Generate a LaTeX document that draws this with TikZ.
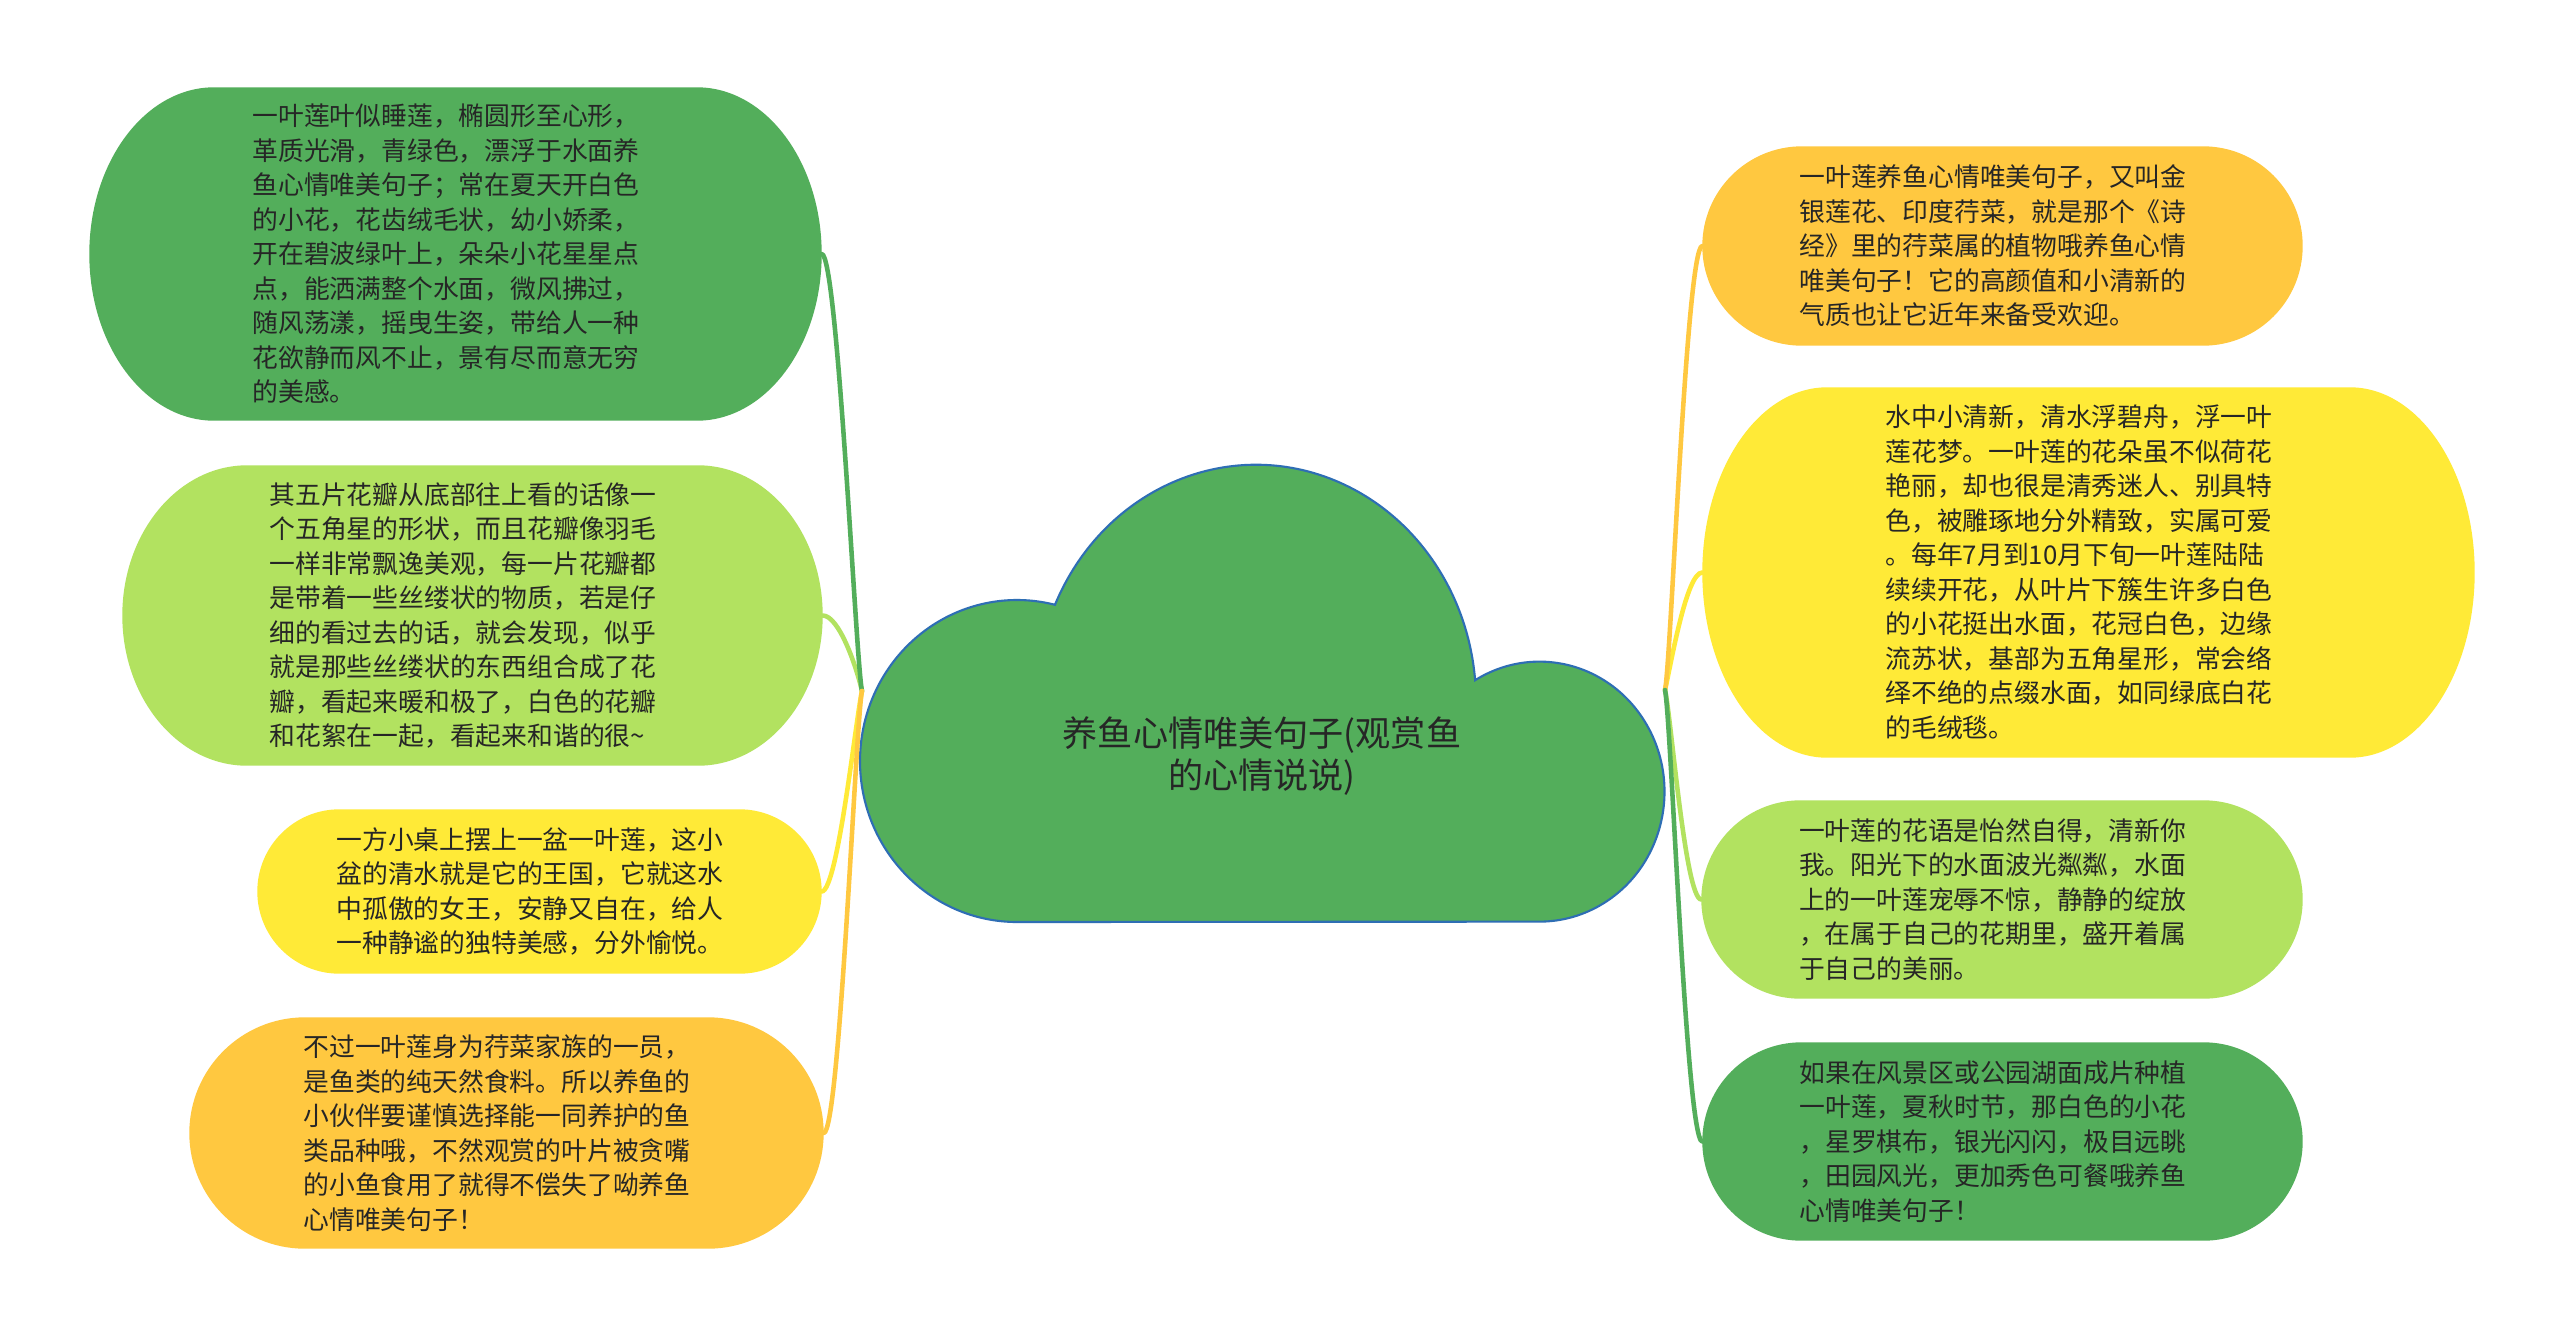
\documentclass[tikz,border=0pt]{standalone}
\usepackage{fontspec}
\usetikzlibrary{calc}
\newfontfamily\cjk{Noto Sans CJK SC}
\definecolor{leafdk}{HTML}{53AE5B}
\definecolor{leaflt}{HTML}{B2E260}
\definecolor{leafyl}{HTML}{FFEA37}
\definecolor{leafor}{HTML}{FFC840}
\definecolor{cloudedge}{HTML}{2E6EB4}
\definecolor{ink}{HTML}{262626}
\pgfdeclarelayer{bg}\pgfsetlayers{bg,main}
\tikzset{
  leaf/.style={font=\cjk\fontsize{7.34pt}{9.82pt}\selectfont,text=ink,align=left,text width=115.5pt,inner sep=0pt},
  link/.style={line width=1.3pt,line cap=round},
}
\newcommand\pillfill[2]{\fill[#2] let \p1=(#1.north west), \p2=(#1.south east),
  \n1={(\y1-\y2)/2}, \n2={min(\n1,35.5pt)} in
  (\x1+\n2,\y1) -- (\x2-\n2,\y1) arc[start angle=90,end angle=-90,x radius=\n2,y radius=\n1]
  -- (\x1+\n2,\y2) arc[start angle=270,end angle=90,x radius=\n2,y radius=\n1] -- cycle;}

\begin{document}
\begin{tikzpicture}[x=0.1mm,y=0.1mm]
 \useasboundingbox (0,0) rectangle (2560,-1335);
 \draw[cloudedge,fill=leafdk,line width=0.6pt] (1017,-922)
   arc[start angle=270,end angle=76,x radius=157,y radius=161]
   arc[start angle=156,end angle=5,x radius=220,y radius=236]
   arc[start angle=121,end angle=-90,x radius=125,y radius=130] -- cycle;
 \node[font=\cjk\fontsize{10pt}{12.2pt}\selectfont,text=ink,align=center] (root) at (1262,-756) {养鱼心情唯美句子(观赏鱼\\的心情说说)};
 \coordinate (jl) at (862,-691); \coordinate (jr) at (1665,-690);

 \node[leaf,minimum width=73.1mm,minimum height=33.2mm] (l1) at (455.5,-254) {一叶莲叶似睡莲，椭圆形至心形，\\革质光滑，青绿色，漂浮于水面养\\鱼心情唯美句子；常在夏天开白色\\的小花，花齿绒毛状，幼小娇柔，\\开在碧波绿叶上，朵朵小花星星点\\点，能洒满整个水面，微风拂过，\\随风荡漾，摇曳生姿，带给人一种\\花欲静而风不止，景有尽而意无穷\\的美感。};
 \node[leaf,minimum width=69.9mm,minimum height=29.9mm] (l2) at (472.5,-615.5) {其五片花瓣从底部往上看的话像一\\个五角星的形状，而且花瓣像羽毛\\一样非常飘逸美观，每一片花瓣都\\是带着一些丝缕状的物质，若是仔\\细的看过去的话，就会发现，似乎\\就是那些丝缕状的东西组合成了花\\瓣，看起来暖和极了，白色的花瓣\\和花絮在一起，看起来和谐的很\textasciitilde};
 \node[leaf,minimum width=56.3mm,minimum height=16.3mm] (l3) at (539.5,-891.5) {一方小桌上摆上一盆一叶莲，这小\\盆的清水就是它的王国，它就这水\\中孤傲的女王，安静又自在，给人\\一种静谧的独特美感，分外愉悦。};
 \node[leaf,minimum width=63.3mm,minimum height=23mm] (l4) at (506.5,-1133) {不过一叶莲身为荇菜家族的一员，\\是鱼类的纯天然食料。所以养鱼的\\小伙伴要谨慎选择能一同养护的鱼\\类品种哦，不然观赏的叶片被贪嘴\\的小鱼食用了就得不偿失了呦养鱼\\心情唯美句子！};

 \node[leaf,minimum width=59.9mm,minimum height=19.8mm] (r1) at (2002.5,-246) {一叶莲养鱼心情唯美句子，又叫金\\银莲花、印度荇菜，就是那个《诗\\经》里的荇菜属的植物哦养鱼心情\\唯美句子！它的高颜值和小清新的\\气质也让它近年来备受欢迎。};
 \node[leaf,minimum width=77.1mm,minimum height=36.9mm] (r2) at (2088.5,-572.5) {水中小清新，清水浮碧舟，浮一叶\\莲花梦。一叶莲的花朵虽不似荷花\\艳丽，却也很是清秀迷人、别具特\\色，被雕琢地分外精致，实属可爱\\。每年7月到10月下旬一叶莲陆陆\\续续开花，从叶片下簇生许多白色\\的小花挺出水面，花冠白色，边缘\\流苏状，基部为五角星形，常会络\\绎不绝的点缀水面，如同绿底白花\\的毛绒毯。};
 \node[leaf,minimum width=60mm,minimum height=19.7mm] (r3) at (2002,-899.5) {一叶莲的花语是怡然自得，清新你\\我。阳光下的水面波光粼粼，水面\\上的一叶莲宠辱不惊，静静的绽放\\，在属于自己的花期里，盛开着属\\于自己的美丽。};
 \node[leaf,minimum width=59.9mm,minimum height=19.7mm] (r4) at (2002.5,-1141.5) {如果在风景区或公园湖面成片种植\\一叶莲，夏秋时节，那白色的小花\\，星罗棋布，银光闪闪，极目远眺\\，田园风光，更加秀色可餐哦养鱼\\心情唯美句子！};

 \begin{pgfonlayer}{bg}
  \fill[white] (0,0) rectangle (2560,-1335);
  \foreach \nd/\c in {l1/leafdk,l2/leaflt,l3/leafyl,l4/leafor,r1/leafor,r2/leafyl,r3/leaflt,r4/leafdk} \pillfill{\nd}{\c};
 \end{pgfonlayer}

 \foreach \nd/\c/\s in {l2/leaflt/1,l1/leafdk/1,l3/leafyl/-1,l4/leafor/-1}
   \draw[link,\c] (\nd.east) .. controls +(16,0) and +(-6,26*\s) .. (jl);
 \foreach \nd/\c/\s in {r2/leafyl/1,r1/leafor/1,r3/leaflt/-1,r4/leafdk/-1}
   \draw[link,\c] (\nd.west) .. controls +(-16,0) and +(6,26*\s) .. (jr);
\end{tikzpicture}
\end{document}
